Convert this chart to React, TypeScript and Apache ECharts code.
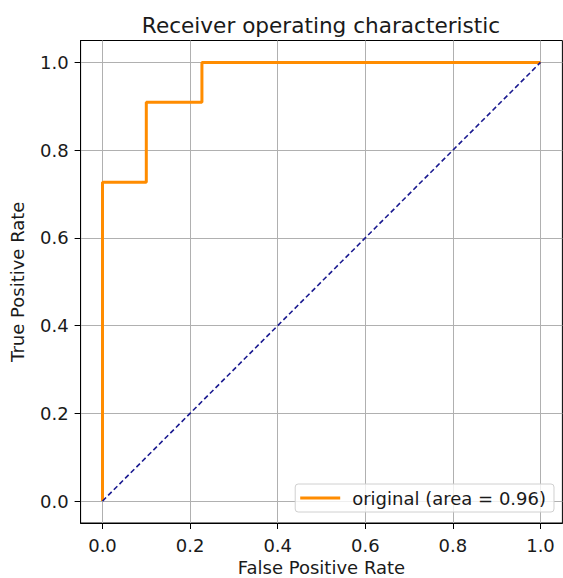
import React, { useEffect, useRef } from "react";
import * as echarts from "echarts";

const fpr = [0, 0, 0.1, 0.1, 0.227, 0.227, 1];
const tpr = [0, 0.727, 0.727, 0.909, 0.909, 1, 1];
const diagX = [0, 1];
const diagY = [0, 1];
const ticks = [0, 0.2, 0.4, 0.6, 0.8, 1.0];
const seriesName = "original (area = 0.96)";
const titleText = "Receiver operating characteristic";
const xName = "False Positive Rate";
const yName = "True Positive Rate";

const FONT = "DejaVu Sans";
const FS = 18;

export default function App() {
  const ref = useRef<HTMLDivElement>(null);
  useEffect(() => {
    if (!ref.current) return;
    const chart = echarts.init(ref.current, null, { renderer: "svg" });
    const axisCommon = {
      type: "value" as const,
      min: -0.05,
      max: 1.05,
      nameLocation: "middle" as const,
      nameTextStyle: { fontFamily: FONT, fontSize: FS, color: "#1a1a1a" },
      axisLine: { show: true, onZero: false, lineStyle: { color: "#000", width: 1 } },
      axisTick: {
        show: true,
        inside: false,
        length: 6,
        customValues: ticks,
        lineStyle: { color: "#000", width: 1 },
      },
      axisLabel: {
        customValues: ticks,
        formatter: (v: number) => v.toFixed(1),
        fontFamily: FONT,
        fontSize: FS,
        color: "#1a1a1a",
      },
      splitLine: { show: true, lineStyle: { color: "#b0b0b0", width: 1 } },
    };
    chart.setOption({
      animation: false,
      backgroundColor: "#fff",
      title: {
        text: titleText,
        left: 316,
        textAlign: "center",
        top: 9,
        textStyle: { fontFamily: FONT, fontSize: 21.6, fontWeight: "normal", color: "#1a1a1a" },
      },
      grid: {
        left: 80.6,
        right: 0.6,
        top: 40.5,
        bottom: 55,
        outerBoundsMode: "none",
        containLabel: false,
        show: true,
        borderColor: "#000",
        borderWidth: 1,
        backgroundColor: "transparent",
      },
      legend: {
        right: 9,
        bottom: 66,
        backgroundColor: "rgba(255,255,255,0.8)",
        borderColor: "#d0d0d0",
        borderWidth: 1,
        borderRadius: 3,
        padding: [5, 8, 5, 5],
        itemWidth: 40,
        itemHeight: 3,
        itemGap: 10,
        icon: "rect",
        textStyle: { fontFamily: FONT, fontSize: FS, color: "#1a1a1a", padding: [0, 0, 0, 7] },
        data: [{ name: seriesName, icon: "rect" }],
      },
      xAxis: {
        ...axisCommon,
        name: xName,
        nameGap: 35,
        axisLabel: { ...axisCommon.axisLabel, margin: 13 },
      },
      yAxis: {
        ...axisCommon,
        name: yName,
        nameGap: 54,
        axisLabel: { ...axisCommon.axisLabel, margin: 12 },
      },
      series: [
        {
          name: seriesName,
          type: "line",
          data: fpr.map((x, i) => [x, tpr[i]]),
          showSymbol: false,
          symbol: "none",
          lineStyle: { color: "#ff8c00", width: 3 },
          itemStyle: { color: "#ff8c00" },
          z: 3,
        },
        {
          name: "diag",
          type: "line",
          data: diagX.map((x, i) => [x, diagY[i]]),
          showSymbol: false,
          symbol: "none",
          lineStyle: { color: "#1a1a90", width: 1.6, type: [5, 3] },
          z: 4,
        },
      ],
    });
    return () => chart.dispose();
  }, []);
  return (
    <div
      ref={ref}
      style={{ position: "fixed", left: 0, top: 0, width: 563, height: 578 }}
    />
  );
}
